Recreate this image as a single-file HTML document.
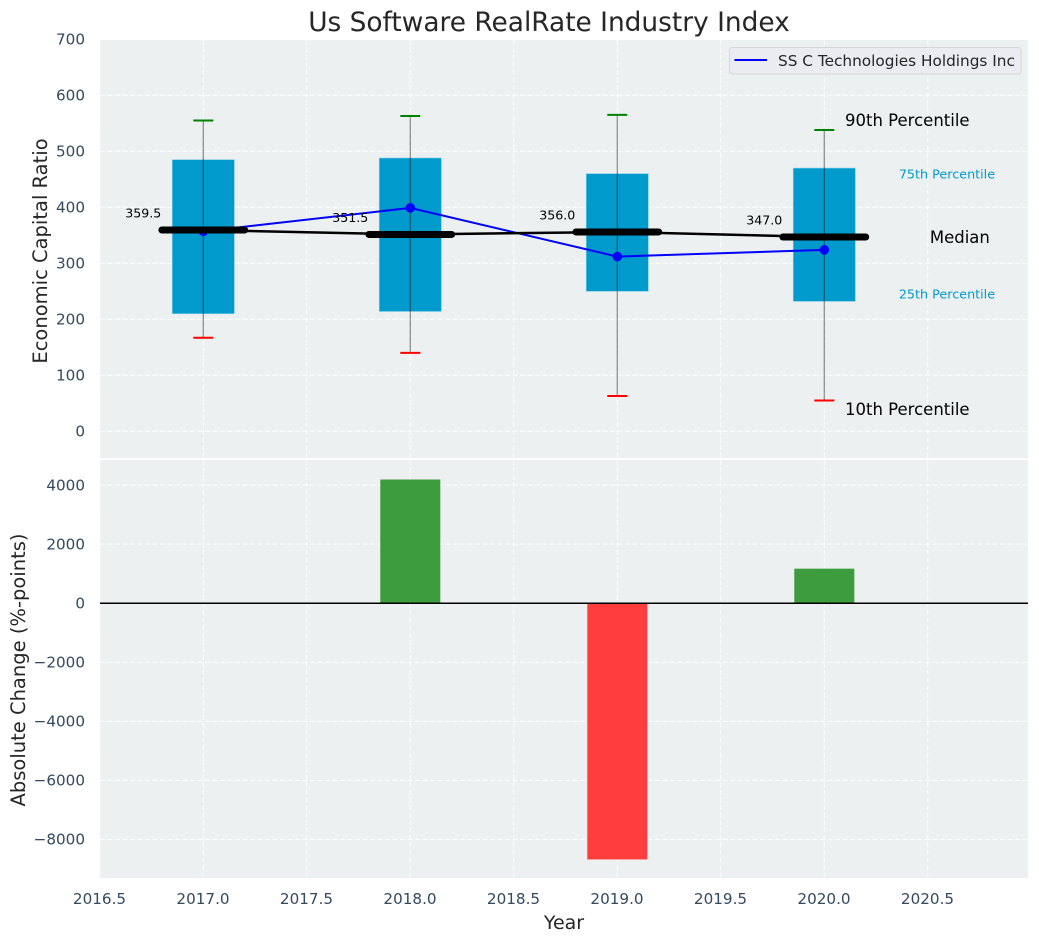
<!DOCTYPE html>
<html>
<head>
<meta charset="utf-8">
<title>Us Software RealRate Industry Index</title>
<style>
html,body{margin:0;padding:0;background:#fff;width:1039px;height:942px;overflow:hidden}
svg{display:block}
text{font-family:"DejaVu Sans","Liberation Sans",sans-serif}
</style>
</head>
<body>
<svg id="chart" xmlns="http://www.w3.org/2000/svg" width="1039" height="942" viewBox="0 0 1039 942"></svg>
<script>
const years = [2017, 2018, 2019, 2020];
const p90 = [555, 563, 565, 538];
const p75 = [485, 488, 460, 470];
const medians = [359.5, 351.5, 356.0, 347.0];
const p25 = [210, 214, 250, 232];
const p10 = [167, 140, 63, 55];
const companyValues = [357, 399, 312, 324];
const changeYears = [2018, 2019, 2020];
const changeValues = [4190, -8680, 1170];
const xTicks = [2016.5, 2017.0, 2017.5, 2018.0, 2018.5, 2019.0, 2019.5, 2020.0, 2020.5];
const topTicks = [0, 100, 200, 300, 400, 500, 600, 700];
const bottomTicks = [-8000, -6000, -4000, -2000, 0, 2000, 4000];

const NS = 'http://www.w3.org/2000/svg';
const svg = document.getElementById('chart');
const plotL = 100, plotR = 1028, topT = 40, topB = 458, botT = 460, botB = 878;
const x = v => 203.3 + (v - 2017) * 207;
const yTop = v => 431.3 - v * 0.56;
const yBot = v => 603.2 - v * 0.02952;

function mk(tag, attrs, parent, txt) {
  const el = document.createElementNS(NS, tag);
  for (const k in attrs) el.setAttribute(k, attrs[k]);
  if (txt !== undefined) el.textContent = txt;
  (parent || svg).appendChild(el);
  return el;
}
function fmtTick(v) { return v < 0 ? '\u2212' + Math.abs(v) : String(v); }

// panel backgrounds
let el = mk('rect', {x: plotL, y: topT, width: plotR - plotL, height: topB - topT, fill: '#ecf0f1'});


el = mk('rect', {x: plotL, y: botT, width: plotR - plotL, height: botB - botT, fill: '#ecf0f1'});



const gridStyle = {stroke: '#ffffff', 'stroke-width': 1, 'stroke-dasharray': '5 2.5', opacity: 0.9};

// grid and tick labels
xTicks.forEach(t => {
  let g = mk('line', Object.assign({x1: x(t), x2: x(t), y1: topT, y2: topB}, gridStyle));
  
  
  g = mk('line', Object.assign({x1: x(t), x2: x(t), y1: botT, y2: botB}, gridStyle));
  
  
  const lb = mk('text', {x: x(t) - 0.3, y: 904, 'text-anchor': 'middle', 'font-size': 15.2, fill: '#34495e'}, svg, t.toFixed(1));
  
  
});
topTicks.forEach(t => {
  const g = mk('line', Object.assign({x1: plotL, x2: plotR, y1: yTop(t), y2: yTop(t)}, gridStyle));
  
  
  const lb = mk('text', {x: 85, y: yTop(t) + 5.3, 'text-anchor': 'end', 'font-size': 15.2, fill: '#34495e'}, svg, fmtTick(t));
  
  
});
bottomTicks.forEach(t => {
  const g = mk('line', Object.assign({x1: plotL, x2: plotR, y1: yBot(t), y2: yBot(t)}, gridStyle));
  
  
  const lb = mk('text', {x: 85, y: yBot(t) + 5.3, 'text-anchor': 'end', 'font-size': 15.2, fill: '#34495e'}, svg, fmtTick(t));
  
  
});

// boxes
years.forEach((yr, i) => {
  const b = mk('rect', {x: x(yr - 0.15), width: x(yr + 0.15) - x(yr - 0.15), y: yTop(p75[i]), height: yTop(p25[i]) - yTop(p75[i]), fill: '#009acd', stroke: '#7fcce6', 'stroke-width': 0.6});
  
  
});

// whiskers and caps
years.forEach((yr, i) => {
  const w = mk('line', {x1: x(yr), x2: x(yr), y1: yTop(p90[i]), y2: yTop(p10[i]), stroke: '#000', 'stroke-opacity': 0.42, 'stroke-width': 1.3});
  
  
  const c1 = mk('line', {x1: x(yr) - 10, x2: x(yr) + 10, y1: yTop(p90[i]), y2: yTop(p90[i]), stroke: '#008000', 'stroke-width': 2});
  
  
  const c2 = mk('line', {x1: x(yr) - 10, x2: x(yr) + 10, y1: yTop(p10[i]), y2: yTop(p10[i]), stroke: '#ff0000', 'stroke-width': 2});
  
  
});

// company line
const companyLine = mk('polyline', {points: years.map((yr, i) => x(yr) + ',' + yTop(companyValues[i])).join(' '), fill: 'none', stroke: '#0000ff', 'stroke-width': 2});


years.forEach((yr, i) => {
  const p = mk('circle', {cx: x(yr), cy: yTop(companyValues[i]), r: 4.8, fill: '#0000ff'});
  
  
});

// median line + thick segments + labels
const medianLine = mk('polyline', {points: years.map((yr, i) => x(yr) + ',' + yTop(medians[i])).join(' '), fill: 'none', stroke: '#000', 'stroke-width': 2.5});


years.forEach((yr, i) => {
  const m = mk('line', {x1: x(yr - 0.2), x2: x(yr + 0.2), y1: yTop(medians[i]), y2: yTop(medians[i]), stroke: '#000', 'stroke-width': 7, 'stroke-linecap': 'round'});
  
  
  const t = mk('text', {x: x(yr) - 60, y: yTop(medians[i]) - 12.5, 'text-anchor': 'middle', 'font-size': 12.6, fill: '#000'}, svg, medians[i].toFixed(1));
  
  
});

// percentile annotations for last year
const last = years.length - 1;
const a90 = mk('text', {x: x(years[last] + 0.1), y: yTop(p90[last]) - 4, 'font-size': 16.5, fill: '#000'}, svg, '90th Percentile');


const a10 = mk('text', {x: x(years[last] + 0.1), y: yTop(p10[last]) + 14.5, 'font-size': 16.5, fill: '#000'}, svg, '10th Percentile');


const a75 = mk('text', {x: x(years[last] + 0.36), y: yTop(p75[last]) + 10.4, 'font-size': 12.75, fill: '#009acd'}, svg, '75th Percentile');


const a25 = mk('text', {x: x(years[last] + 0.36), y: yTop(p25[last]) - 2.8, 'font-size': 12.75, fill: '#009acd'}, svg, '25th Percentile');


const aMed = mk('text', {x: x(years[last] + 0.51), y: yTop(medians[last]) + 5.8, 'font-size': 16.5, fill: '#000'}, svg, 'Median');



// change bars
changeYears.forEach((yr, i) => {
  const v = changeValues[i];
  const top = Math.min(yBot(v), yBot(0));
  const b = mk('rect', {x: x(yr - 0.145), width: x(yr + 0.145) - x(yr - 0.145), y: top, height: Math.abs(yBot(v) - yBot(0)), fill: v >= 0 ? '#3d9c3d' : '#ff3d3d'});
  
  
});
const zero = mk('line', {x1: plotL, x2: plotR, y1: yBot(0), y2: yBot(0), stroke: '#000', 'stroke-width': 1.5});



// legend
const lg = mk('g', {});


const lgBox = mk('rect', {x: 729.5, y: 47.5, width: 291.5, height: 26.5, rx: 3, fill: '#eaecf1', stroke: '#d6d6d6', 'stroke-width': 1}, lg);


const lgLine = mk('line', {x1: 734.5, x2: 767, y1: 60, y2: 60, stroke: '#0000ff', 'stroke-width': 2}, lg);


const lgText = mk('text', {x: 778, y: 66, 'font-size': 15.3, fill: '#262626'}, lg, 'SS C Technologies Holdings Inc');



// titles
const title = mk('text', {x: 549, y: 31, 'text-anchor': 'middle', 'font-size': 26.4, fill: '#262626'}, svg, 'Us Software RealRate Industry Index');


const xTitle = mk('text', {x: 564, y: 929, 'text-anchor': 'middle', 'font-size': 19, fill: '#262626'}, svg, 'Year');


const y1Title = mk('text', {transform: 'translate(47,251) rotate(-90)', 'text-anchor': 'middle', 'font-size': 19.5, fill: '#262626'}, svg, 'Economic Capital Ratio');


const y2Title = mk('text', {transform: 'translate(25,670) rotate(-90)', 'text-anchor': 'middle', 'font-size': 19.5, fill: '#262626'}, svg, 'Absolute Change (%-points)');


</script>
</body>
</html>
